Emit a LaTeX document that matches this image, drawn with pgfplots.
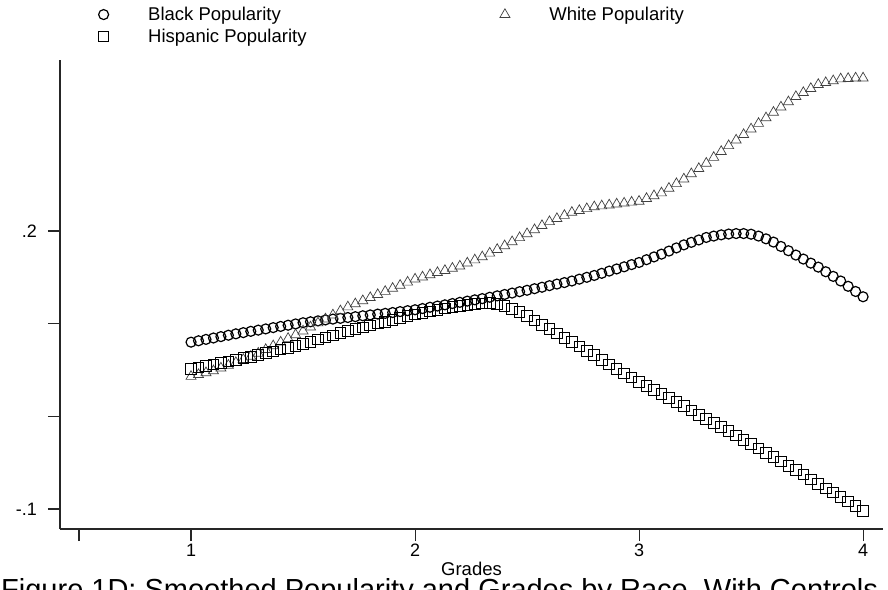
\documentclass[border=0pt]{standalone}
\usepackage{fontspec}
\setmainfont{Liberation Sans}
\usepackage{pgfplots}
\usepackage{pgfplotstable}
\pgfplotsset{compat=1.18}

\pgfplotstableread{
x black hisp white
1.0000 0.0800 0.0510 0.0430
1.0333 0.0815 0.0527 0.0450
1.0667 0.0830 0.0543 0.0470
1.1000 0.0845 0.0560 0.0490
1.1333 0.0860 0.0577 0.0520
1.1667 0.0875 0.0593 0.0550
1.2000 0.0890 0.0610 0.0580
1.2333 0.0903 0.0627 0.0613
1.2667 0.0917 0.0643 0.0647
1.3000 0.0930 0.0660 0.0680
1.3333 0.0943 0.0680 0.0720
1.3667 0.0957 0.0700 0.0760
1.4000 0.0970 0.0720 0.0800
1.4333 0.0983 0.0740 0.0840
1.4667 0.0997 0.0760 0.0880
1.5000 0.1010 0.0780 0.0920
1.5333 0.1020 0.0803 0.0963
1.5667 0.1030 0.0827 0.1007
1.6000 0.1040 0.0850 0.1050
1.6333 0.1049 0.0873 0.1093
1.6667 0.1057 0.0897 0.1137
1.7000 0.1066 0.0920 0.1180
1.7333 0.1075 0.0940 0.1213
1.7667 0.1085 0.0960 0.1247
1.8000 0.1094 0.0980 0.1280
1.8333 0.1103 0.1000 0.1313
1.8667 0.1111 0.1020 0.1347
1.9000 0.1120 0.1040 0.1380
1.9333 0.1130 0.1060 0.1413
1.9667 0.1140 0.1080 0.1447
2.0000 0.1150 0.1100 0.1480
2.0333 0.1163 0.1117 0.1503
2.0667 0.1177 0.1133 0.1527
2.1000 0.1190 0.1150 0.1550
2.1333 0.1203 0.1163 0.1573
2.1667 0.1217 0.1177 0.1597
2.2000 0.1230 0.1190 0.1620
2.2333 0.1243 0.1200 0.1653
2.2667 0.1257 0.1210 0.1687
2.3000 0.1270 0.1218 0.1720
2.3333 0.1285 0.1220 0.1760
2.3667 0.1300 0.1212 0.1800
2.4000 0.1315 0.1190 0.1840
2.4333 0.1330 0.1160 0.1883
2.4667 0.1345 0.1125 0.1927
2.5000 0.1360 0.1080 0.1970
2.5333 0.1377 0.1033 0.2013
2.5667 0.1393 0.0987 0.2057
2.6000 0.1410 0.0940 0.2100
2.6333 0.1427 0.0893 0.2133
2.6667 0.1443 0.0847 0.2167
2.7000 0.1460 0.0800 0.2200
2.7333 0.1480 0.0753 0.2220
2.7667 0.1500 0.0707 0.2240
2.8000 0.1520 0.0660 0.2260
2.8333 0.1543 0.0610 0.2270
2.8667 0.1567 0.0560 0.2280
2.9000 0.1590 0.0510 0.2290
2.9333 0.1613 0.0463 0.2300
2.9667 0.1637 0.0417 0.2310
3.0000 0.1660 0.0370 0.2320
3.0333 0.1690 0.0327 0.2350
3.0667 0.1720 0.0283 0.2380
3.1000 0.1750 0.0240 0.2410
3.1333 0.1783 0.0197 0.2460
3.1667 0.1817 0.0153 0.2510
3.2000 0.1850 0.0110 0.2560
3.2333 0.1877 0.0063 0.2617
3.2667 0.1903 0.0017 0.2673
3.3000 0.1930 -0.0030 0.2730
3.3333 0.1945 -0.0073 0.2793
3.3667 0.1958 -0.0117 0.2857
3.4000 0.1967 -0.0160 0.2920
3.4333 0.1972 -0.0207 0.2980
3.4667 0.1972 -0.0253 0.3040
3.5000 0.1965 -0.0300 0.3100
3.5333 0.1945 -0.0347 0.3160
3.5667 0.1915 -0.0393 0.3220
3.6000 0.1880 -0.0440 0.3280
3.6333 0.1833 -0.0487 0.3337
3.6667 0.1787 -0.0533 0.3393
3.7000 0.1740 -0.0580 0.3450
3.7333 0.1697 -0.0630 0.3493
3.7667 0.1653 -0.0680 0.3537
3.8000 0.1610 -0.0730 0.3580
3.8333 0.1560 -0.0777 0.3600
3.8667 0.1510 -0.0823 0.3620
3.9000 0.1460 -0.0870 0.3640
3.9333 0.1403 -0.0920 0.3645
3.9667 0.1347 -0.0970 0.3650
4.0000 0.1290 -0.1020 0.3650
}\datatable

\begin{document}
\begin{tikzpicture}
\useasboundingbox (0pt,0pt) rectangle (888pt,589pt);
\begin{axis}[
  at={(60pt,60pt)}, anchor=south west,
  scale only axis, width=823pt, height=469pt,
  xmin=0.415, xmax=4.089, ymin=-0.1216, ymax=0.3845,
  axis lines*=left,
  axis line style={line width=1.2pt, black!85},
  tick align=outside, major tick length=12pt,
  tick style={line width=1.1pt, black!85},
  xtick={0.5,1,2,3,4}, xticklabels={,1,2,3,4},
  ytick={-0.1,0,0.1,0.2}, yticklabels={-.1,,,.2},
  /pgf/number format/assume math mode=true,
  ticklabel style={font=\fontsize{18}{21}\selectfont},
  xticklabel style={inner sep=0pt, yshift=-3pt},
  yticklabel style={inner sep=0pt, xshift=-11pt},
  xlabel={Grades},
  xlabel style={font=\fontsize{18.5}{21}\selectfont, at={(axis description cs:0.5,-0.1002)}, anchor=base},
  legend columns=2,
  legend cell align=left,
  legend image code/.code={\path (-6pt,0pt) (42pt,0pt); \draw[#1, mark repeat=1] plot coordinates {(0pt,0pt)};},
  legend style={at={(axis description cs:0.045,1.117)}, anchor=north west, draw=none, fill=none,
    inner sep=0pt, outer sep=0pt, font=\fontsize{18.5}{21}\selectfont, row sep=3pt,
    /tikz/every even column/.append style={column sep=190pt}},
]
\addplot[only marks, mark=o, mark size=5pt, line width=1.2pt, black] table[x=x, y=black] {\datatable};
\addlegendentry{Black Popularity}
\addplot[only marks, mark=triangle, mark size=5.8pt, line width=0.7pt, black!75] table[x=x, y=white] {\datatable};
\addlegendentry{White Popularity}
\addplot[only marks, mark=square, mark size=5.3pt, line width=1pt, black] table[x=x, y=hisp] {\datatable};
\addlegendentry{Hispanic Popularity}
\end{axis}
\node[anchor=base west, inner sep=0pt, font=\fontsize{29}{31}\selectfont] at (1pt,-10.5pt) {Figure 1D: Smoothed Popularity and Grades by Race, With Controls};
\end{tikzpicture}
\end{document}
